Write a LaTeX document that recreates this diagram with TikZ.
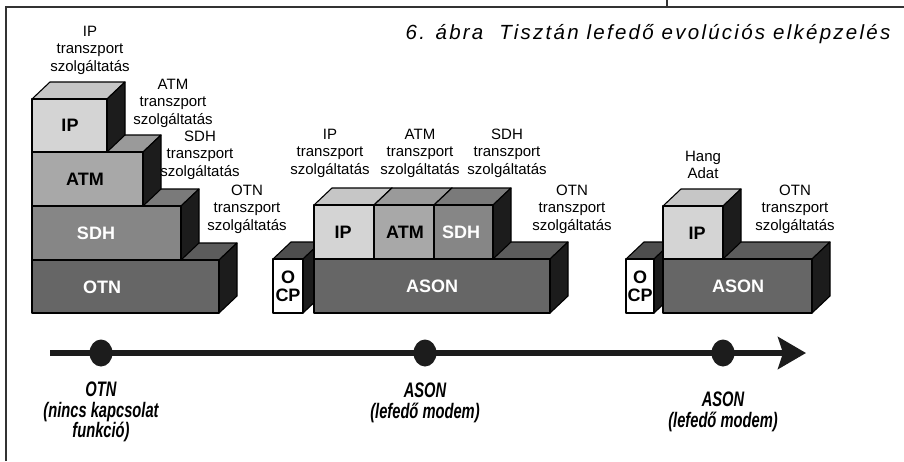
\documentclass[tikz,border=0pt]{standalone}
\usepackage{fontspec}
\setmainfont{Liberation Sans}
\newfontfamily\condfont[FakeStretch=0.7]{Liberation Sans}
\newfontfamily\titlefont[LetterSpace=11]{Liberation Sans}
\usetikzlibrary{arrows.meta,shapes.geometric}
\definecolor{ipfront}{HTML}{D4D4D4}
\definecolor{iptop}{HTML}{C6C6C6}
\definecolor{atmfront}{HTML}{A8A8A8}
\definecolor{atmtop}{HTML}{9A9A9A}
\definecolor{sdhfront}{HTML}{868686}
\definecolor{sdhtop}{HTML}{7A7A7A}
\definecolor{basefront}{HTML}{666666}
\definecolor{basetop}{HTML}{5C5C5C}
\definecolor{ocptop}{HTML}{4E4E4E}
\definecolor{sidec}{HTML}{1C1C1C}
\definecolor{framec}{HTML}{333333}
\def\dx{18}
\def\dy{17}
% #1 x1, #2 y1, #3 x2, #4 y2, #5 front colour, #6 top colour
\newcommand{\cubebox}[6]{%
  \filldraw[fill=#6, boxline] (#1,#2) -- (#1+\dx,#2-\dy) -- (#3+\dx,#2-\dy) -- (#3,#2) -- cycle;
  \filldraw[fill=sidec, boxline] (#3,#2) -- (#3+\dx,#2-\dy) -- (#3+\dx,#4-\dy) -- (#3,#4) -- cycle;
  \filldraw[fill=#5, boxline] (#1,#2) rectangle (#3,#4);
}
\tikzset{
  boxline/.style={draw=black, line width=1.1pt, line join=round},
  lbl/.style={align=center, font=\fontsize{15}{17.5}\selectfont, inner sep=0pt},
  boxtxt/.style={font=\fontsize{18}{18}\selectfont\bfseries, inner sep=0pt, align=center},
  tltxt/.style={align=center, font=\condfont\bfseries\itshape\fontsize{21}{20.5}\selectfont, inner sep=0pt},
  dot/.style={ellipse, fill=sidec, minimum width=23pt, minimum height=27pt, inner sep=0pt}
}
\begin{document}
\begin{tikzpicture}[x=1pt,y=-1pt]
\useasboundingbox (0,0) rectangle (904,461);
% frame
\draw[framec, line width=1.5pt] (6,461) -- (6,7) -- (904,7);
\draw[framec, line width=1.2pt] (667,0) -- (667,7);
% title
\node[font=\titlefont\itshape\fontsize{20.5}{21}\selectfont, inner sep=0pt] (title) at (648,34) {6. ábra\ \ Tisztán lefedő evolúciós elképzelés};

% ---------- left stack ----------
\cubebox{32}{260}{219}{313}{basefront}{basetop}
\cubebox{32}{206}{181}{260}{sdhfront}{sdhtop}
\cubebox{32}{152}{143}{206}{atmfront}{atmtop}
\cubebox{32}{99}{107}{152}{ipfront}{iptop}
\node[boxtxt] (l-ip) at (70,125) {IP};
\node[boxtxt] (l-atm) at (85,179) {ATM};
\node[boxtxt, text=white] (l-sdh) at (96,233) {SDH};
\node[boxtxt, text=white] (l-otn) at (102,287) {OTN};
\node[lbl] (l-ipl) at (90,50) {IP\\transzport\\szolgáltatás};
\node[lbl] (l-atml) at (173,103) {ATM\\transzport\\szolgáltatás};
\node[lbl] (l-sdhl) at (200,155) {SDH\\transzport\\szolgáltatás};
\node[lbl] (l-otnl) at (247,209) {OTN\\transzport\\szolgáltatás};

% ---------- middle group ----------
\cubebox{273}{259}{303}{313}{white}{ocptop}
\cubebox{314}{259}{550}{313}{basefront}{basetop}
\cubebox{314}{205}{374}{259}{ipfront}{iptop}
\cubebox{374}{205}{434}{259}{atmfront}{atmtop}
\cubebox{434}{205}{493}{259}{sdhfront}{sdhtop}
\node[boxtxt] (m-ip) at (343,232) {IP};
\node[boxtxt] (m-atm) at (405,232) {ATM};
\node[boxtxt, text=white] (m-sdh) at (461,232) {SDH};
\node[boxtxt, text=white] (m-ason) at (432,286) {ASON};
\node[boxtxt, align=center] (m-ocp) at (288,286) {O\\CP};
\node[lbl] (m-ipl) at (330,153) {IP\\transzport\\szolgáltatás};
\node[lbl] (m-atml) at (420,153) {ATM\\transzport\\szolgáltatás};
\node[lbl] (m-sdhl) at (507,153) {SDH\\transzport\\szolgáltatás};
\node[lbl] (m-otnl) at (572,209) {OTN\\transzport\\szolgáltatás};

% ---------- right group ----------
\cubebox{626}{259}{654}{313}{white}{ocptop}
\cubebox{663}{259}{812}{313}{basefront}{basetop}
\cubebox{663}{206}{723}{259}{ipfront}{iptop}
\node[boxtxt] (r-ip) at (697,233) {IP};
\node[boxtxt, text=white] (r-ason) at (738,286) {ASON};
\node[boxtxt, align=center] (r-ocp) at (640,286) {O\\CP};
\node[lbl] (r-hang) at (703,165) {Hang\\Adat};
\node[lbl] (r-otnl) at (795,209) {OTN\\transzport\\szolgáltatás};

% ---------- timeline ----------
\coordinate (tstart) at (50,353);
\coordinate (tend) at (806,353);
\draw[line width=5.5pt, sidec, -{Stealth[length=28pt, width=32pt, inset=5pt]}] (tstart) -- (tend);
\node[dot] (d1) at (101,353) {};
\node[dot] (d2) at (425,353) {};
\node[dot] (d3) at (723,353) {};
\node[tltxt] (t1) at (101,412) {OTN\\(nincs kapcsolat\\funkció)};
\node[tltxt] (t2) at (425,403) {ASON\\(lefedő modem)};
\node[tltxt] (t3) at (723,412) {ASON\\(lefedő modem)};
\end{tikzpicture}
\end{document}
